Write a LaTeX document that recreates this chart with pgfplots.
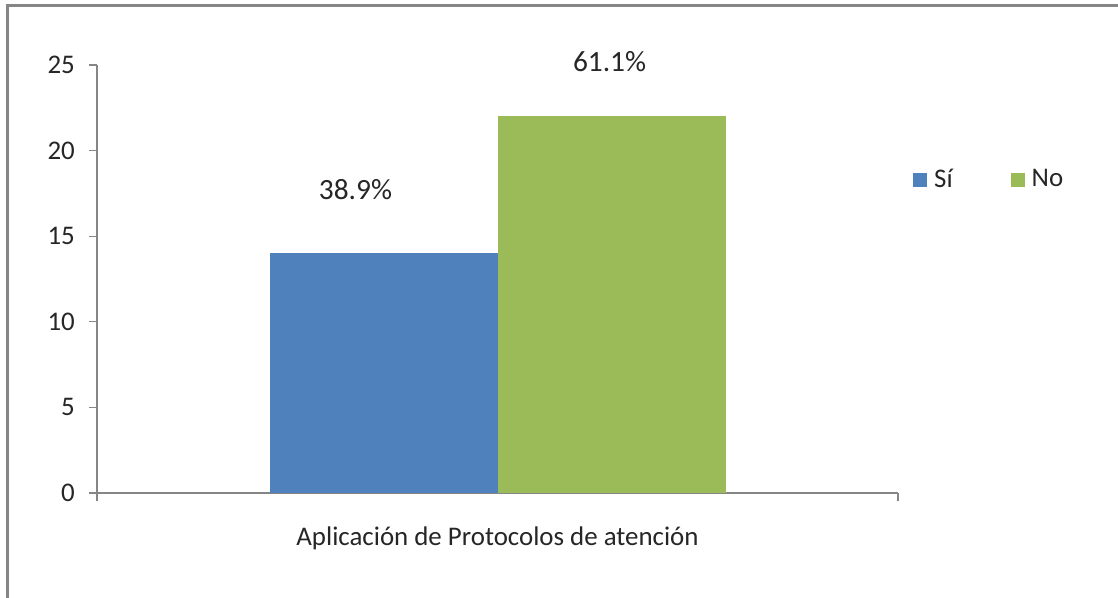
\documentclass[border=0pt]{standalone}
\usepackage{pgfplots}
\pgfplotsset{compat=1.18}
\usepackage{fontspec}
\setmainfont{Carlito}
\definecolor{sibl}{HTML}{4F81BD}
\definecolor{nogr}{HTML}{9BBB59}
\definecolor{axgr}{HTML}{868686}
\begin{document}
\fontsize{27}{32}\selectfont
\begin{tikzpicture}[x=1bp,y=1bp]
\clip (0,0) rectangle (1118,598);
\fill[white] (0,0) rectangle (1118,598);
\draw[axgr, line width=2.5bp] (7.5,-20) -- (7.5,592.5) -- (1140,592.5);
\begin{axis}[
  at={(97bp,105bp)}, anchor=south west,
  width=801bp, height=428bp, scale only axis,
  clip=false,
  xmin=-0.5, xmax=0.5, ymin=0, ymax=25,
  axis lines=left, axis line style={axgr, line width=1.2bp, -},
  ybar=0pt, bar width=228bp,
  xtick={-0.5,0.5}, xticklabels={,},
  ytick={0,5,10,15,20,25},
  tick align=outside, major tick length=8bp,
  tick style={axgr, line width=1.2bp},
  /pgf/number format/assume math mode=true,
  ticklabel style={font=\fontsize{27}{32}\selectfont, text=black!85},
  yticklabel style={xshift=-5bp},
  legend columns=2,
  legend style={at={(1.0187,0.731)}, anchor=west, draw=none, fill=none,
    inner xsep=0pt,
    font=\fontsize{27}{32}\selectfont, text=black!85,
    /tikz/every odd column/.append style={column sep=5bp},
    /tikz/every even column/.append style={column sep=56bp}},
  legend image code/.code={\fill[#1] (-4bp,-7bp) rectangle (10bp,7bp);},
]
\addplot[fill=sibl, draw=none] coordinates {(0,14)};
\addplot[fill=nogr, draw=none] coordinates {(0,22)};
\legend{Sí, No}
\node[text=black!85, font=\fontsize{29.5}{34}\selectfont] at (axis cs:-0.1773,17.7) {38.9\%};
\node[text=black!85, font=\fontsize{29.5}{34}\selectfont] at (axis cs:0.1399,25.2) {61.1\%};
\node[text=black!85, font=\fontsize{27}{32}\selectfont] at (axis cs:0,-2.63) {Aplicación de Protocolos de atención};
\end{axis}
\end{tikzpicture}
\end{document}
